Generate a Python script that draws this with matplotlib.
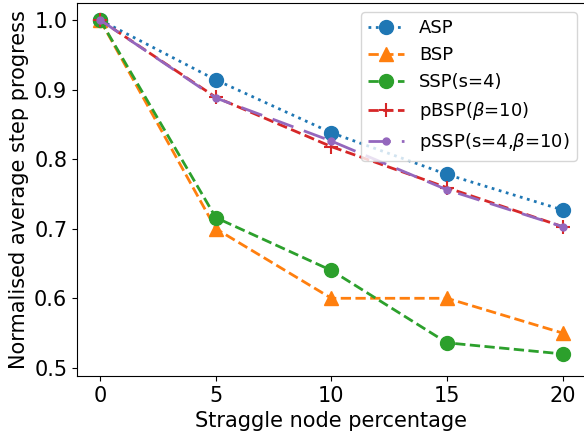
import matplotlib
matplotlib.use("Agg")
import matplotlib.pyplot as plt

x = [0, 5, 10, 15, 20]
asp = [1.0, 0.914, 0.838, 0.778, 0.727]
bsp = [1.0, 0.70, 0.60, 0.60, 0.55]
ssp = [1.0, 0.716, 0.640, 0.536, 0.520]
pbsp = [1.0, 0.889, 0.818, 0.759, 0.703]
pssp = [1.0, 0.888, 0.826, 0.756, 0.703]

fig = plt.figure(figsize=(5.84, 4.32), dpi=100)
ax = fig.add_axes([0.132, 0.13, 0.871, 0.863])
ax.plot(x, asp, ':', marker='o', color='#1f77b4', lw=2, ms=10, label='ASP')
ax.plot(x, bsp, '--', marker='^', color='#ff7f0e', lw=2, ms=10, label='BSP')
ax.plot(x, ssp, '--', marker='o', color='#2ca02c', lw=2, ms=10, label='SSP(s=4)')
ax.plot(x, pbsp, '--', marker='+', color='#d62728', lw=2, ms=10, mew=1.5, label=r'pBSP($\beta$=10)')
ax.plot(x, pssp, color='#9467bd', marker='.', lw=2, ms=10, dashes=(8, 4), label=r'pSSP(s=4,$\beta$=10)')
ax.set_xlim(-1, 21)
ax.set_ylim(0.4885, 1.0245)
ax.set_xticks([0, 5, 10, 15, 20])
ax.set_yticks([0.5, 0.6, 0.7, 0.8, 0.9, 1.0])
ax.tick_params(labelsize=15)
ax.set_xlabel('Straggle node percentage', fontsize=15)
ax.set_ylabel('Normalised average step progress', fontsize=15)
ax.legend(fontsize=13, loc='upper right')
fig.savefig('out.png', dpi=100)
